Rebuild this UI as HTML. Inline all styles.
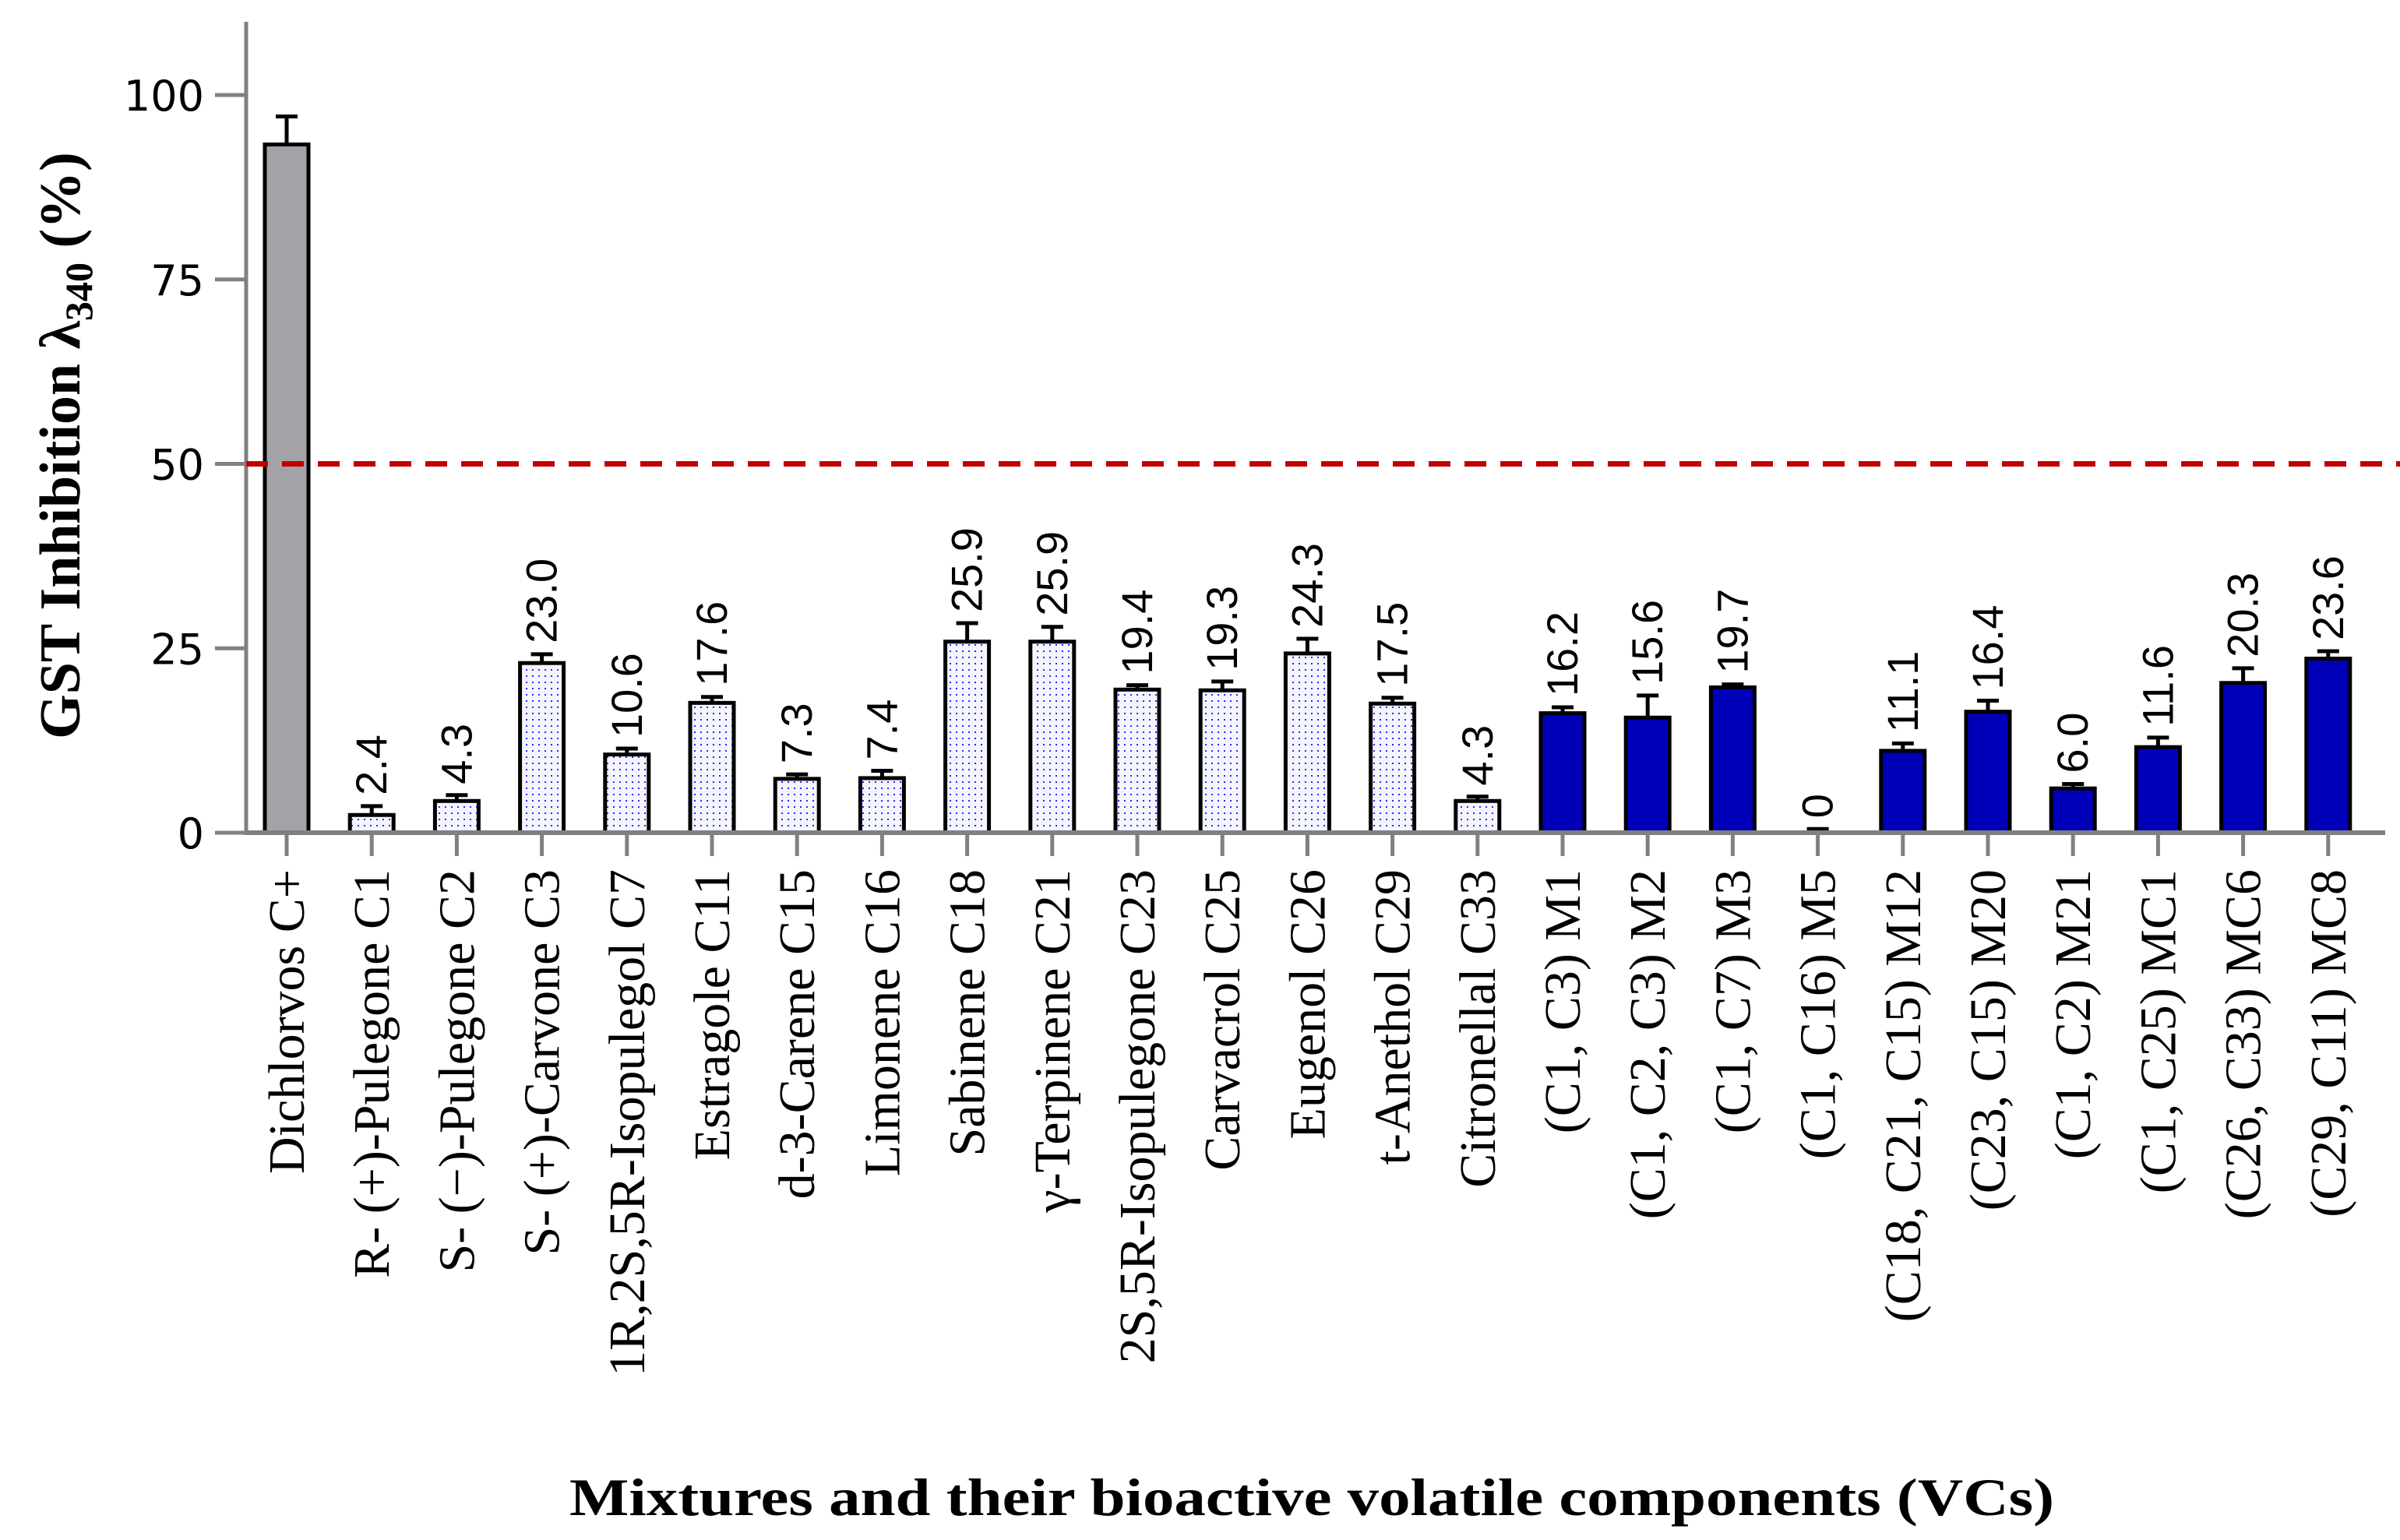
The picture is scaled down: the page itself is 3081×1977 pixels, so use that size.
<!DOCTYPE html>
<html><head><meta charset="utf-8"><style>
html,body{margin:0;padding:0;background:#fff;}
svg{display:block;}
</style></head><body>
<svg id="chart" xmlns="http://www.w3.org/2000/svg" width="3081" height="1977" viewBox="0 0 3081 1977">
<defs>
<pattern id="dots" width="8" height="8" patternUnits="userSpaceOnUse">
<rect width="8" height="8" fill="#f4f5fd"/>
<rect x="3" y="3" width="2" height="2" fill="#2a2aff"/>
</pattern>
</defs>
<g id="plot"></g>
<text transform="translate(102,572) rotate(-90)" text-anchor="middle" font-family="Liberation Serif, serif" font-weight="bold" font-size="74">GST Inhibition λ<tspan font-size="50" dy="16">340</tspan><tspan dy="-16"> (%)</tspan></text>
<text x="1684" y="1945" text-anchor="middle" font-family="Liberation Serif, serif" font-weight="bold" font-size="68" textLength="1906" lengthAdjust="spacingAndGlyphs">Mixtures and their bioactive volatile components (VCs)</text>
</svg>
<script>
const categories = ["Dichlorvos C+","R- (+)-Pulegone C1","S- (\u2212)-Pulegone C2","S- (+)-Carvone C3","1R,2S,5R-Isopulegol C7","Estragole C11","d-3-Carene C15","Limonene C16","Sabinene C18","\u03b3-Terpinene C21","2S,5R-Isopulegone C23","Carvacrol C25","Eugenol C26","t-Anethol C29","Citronellal C33","(C1, C3) M1","(C1, C2, C3) M2","(C1, C7) M3","(C1, C16) M5","(C18, C21, C15) M12","(C23, C15) M20","(C1, C2) M21","(C1, C25) MC1","(C26, C33) MC6","(C29, C11) MC8"];
const values = [93.3,2.4,4.3,23.0,10.6,17.6,7.3,7.4,25.9,25.9,19.4,19.3,24.3,17.5,4.3,16.2,15.6,19.7,0,11.1,16.4,6.0,11.6,20.3,23.6];
const errors = [3.8,1.2,0.8,1.2,0.8,0.8,0.6,1.0,2.5,2.0,0.6,1.2,2.0,0.8,0.6,0.8,3.0,0.4,0.5,1.0,1.5,0.6,1.3,2.0,1.0];
const valueLabels = ["","2.4","4.3","23.0","10.6","17.6","7.3","7.4","25.9","25.9","19.4","19.3","24.3","17.5","4.3","16.2","15.6","19.7","0","11.1","16.4","6.0","11.6","20.3","23.6"];
const groups = ["control","vc","vc","vc","vc","vc","vc","vc","vc","vc","vc","vc","vc","vc","vc","mix","mix","mix","mix","mix","mix","mix","mix","mix","mix"];
const yTicks = [0,25,50,75,100];
const threshold = 50;

const NS="http://www.w3.org/2000/svg";
const X0=316, X1=3062, Y0=1069, PX=9.47, C0=368, STEP=109.2, BW=56;
const yS=v=>Y0-v*PX;
const xS=i=>C0+i*STEP;
const g=document.getElementById('plot');
function mk(t,a){const e=document.createElementNS(NS,t);for(const k in a)e.setAttribute(k,a[k]);g.appendChild(e);return e;}

let ya=mk('line',{x1:X0,y1:28,x2:X0,y2:Y0+2,stroke:'#808080','stroke-width':5});


yTicks.forEach(t=>{
  const l=mk('line',{x1:276,y1:yS(t),x2:X0,y2:yS(t),stroke:'#808080','stroke-width':5});
  
  
  const tx=mk('text',{x:262,y:yS(t)+20,'text-anchor':'end','font-family':'DejaVu Sans, Liberation Sans, sans-serif','font-size':54});
  tx.textContent=t;
  
  
});

categories.forEach((c,i)=>{
  const cx=xS(i), v=values[i], e=errors[i];
  const fill=groups[i]==='control'?'#a3a3a7':groups[i]==='vc'?'url(#dots)':'#0000b8';
  if(v>0){
    const b=mk('rect',{x:cx-BW/2,y:yS(v),width:BW,height:Y0-yS(v),fill:fill,stroke:'#000','stroke-width':5});
    
    
  }
  const et=yS(v+e);
  const eb=mk('path',{d:`M${cx},${yS(v)}V${et}M${cx-14},${et}H${cx+14}`,stroke:'#000','stroke-width':5,fill:'none'});
  
  
  if(valueLabels[i]){
    const ly=et-14, lx=cx+19;
    const vl=mk('text',{x:lx,y:ly,transform:`rotate(-90 ${lx} ${ly})`,'font-family':'Liberation Sans, sans-serif','font-size':56});
    vl.textContent=valueLabels[i];
    
    
  }
  const tk=mk('line',{x1:cx,y1:Y0,x2:cx,y2:Y0+30,stroke:'#808080','stroke-width':5});
  
  
  const lx=cx+22, ly=1116;
  const cl=mk('text',{x:lx,y:ly,transform:`rotate(-90 ${lx} ${ly})`,'text-anchor':'end','font-family':'Liberation Serif, serif','font-size':66});
  cl.textContent=c;
  
  
});
const th=mk('line',{x1:X0,y1:yS(threshold),x2:3081,y2:yS(threshold),stroke:'#c00000','stroke-width':7,'stroke-dasharray':'28 18'});


const xa=mk('line',{x1:X0-2,y1:Y0,x2:X1,y2:Y0,stroke:'#808080','stroke-width':6});


</script>
</body></html>
